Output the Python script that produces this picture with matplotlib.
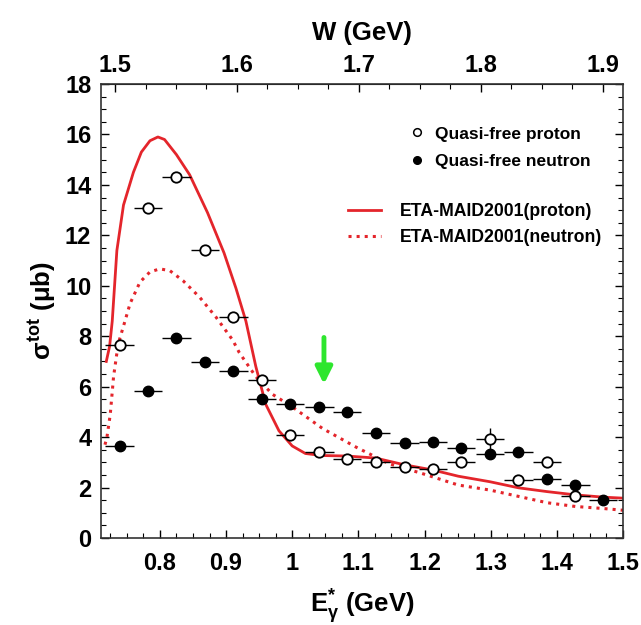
import matplotlib
matplotlib.use("Agg")
import matplotlib.pyplot as plt
from matplotlib.ticker import MultipleLocator, FixedLocator
from matplotlib.lines import Line2D
import numpy as np

plt.rcParams['font.family'] = ['Liberation Sans', 'DejaVu Sans']
plt.rcParams['font.weight'] = 'bold'
plt.rcParams['mathtext.fontset'] = 'custom'
plt.rcParams['mathtext.rm'] = 'Liberation Sans:bold'
plt.rcParams['mathtext.it'] = 'Liberation Sans:bold'
plt.rcParams['mathtext.bf'] = 'Liberation Sans:bold'

# ---- data ----
e_bins = [0.739, 0.782, 0.825, 0.868, 0.911, 0.954, 0.997, 1.041, 1.083, 1.127,
          1.170, 1.213, 1.255, 1.299, 1.342, 1.385, 1.428, 1.470]
proton_sigma = [7.67, 13.1, 14.33, 11.43, 8.78, 6.28, 4.10, 3.41, 3.12, 3.02,
                2.80, 2.73, 3.02, 3.92, 2.29, 3.02, 1.67]
proton_err = [0.2, 0.2, 0.2, 0.2, 0.2, 0.15, 0.12, 0.1, 0.1, 0.1,
              0.1, 0.1, 0.15, 0.45, 0.15, 0.2, 0.12]
neutron_sigma = [3.64, 5.83, 7.93, 6.97, 6.61, 5.53, 5.30, 5.19, 5.00, 4.17,
                 3.75, 3.81, 3.55, 3.32, 3.41, 2.32, 2.10, 1.50]
neutron_err = [0.15, 0.15, 0.15, 0.15, 0.12, 0.12, 0.1, 0.1, 0.1, 0.1,
               0.1, 0.1, 0.12, 0.12, 0.12, 0.12, 0.12, 0.12]
bin_halfwidth = 0.0215

maid_p_e = [0.719, 0.724, 0.728, 0.735, 0.745, 0.760, 0.772, 0.785, 0.797, 0.807,
            0.825, 0.845, 0.872, 0.897, 0.915, 0.930, 0.945, 0.960, 0.980, 1.000,
            1.020, 1.045, 1.083, 1.126, 1.170, 1.212, 1.251, 1.299, 1.342, 1.385,
            1.428, 1.470, 1.500]
maid_p_sigma = [7.0, 7.6, 8.6, 11.4, 13.2, 14.5, 15.3, 15.75, 15.9, 15.8,
                15.2, 14.4, 12.9, 11.3, 9.9, 8.6, 6.8, 5.3, 4.25, 3.65,
                3.35, 3.27, 3.25, 3.17, 2.9, 2.7, 2.45, 2.23, 1.99, 1.84,
                1.71, 1.62, 1.58]
maid_n_e = [0.717, 0.720, 0.725, 0.730, 0.737, 0.745, 0.755, 0.770, 0.785, 0.800,
            0.815, 0.835, 0.860, 0.885, 0.910, 0.920, 0.945, 0.970, 1.000, 1.046,
            1.096, 1.146, 1.196, 1.251, 1.299, 1.342, 1.385, 1.428, 1.470, 1.500]
maid_n_sigma = [3.7, 4.0, 4.9, 6.4, 7.7, 8.4, 9.3, 10.15, 10.55, 10.67,
                10.6, 10.2, 9.55, 8.75, 7.85, 7.35, 6.4, 5.7, 5.2, 4.34,
                3.61, 2.95, 2.56, 2.1, 1.9, 1.65, 1.4, 1.25, 1.17, 1.1]

arrow_e = 1.048
arrow_top, arrow_tip = 7.95, 6.1

x_ticks = [0.8, 0.9, 1.0, 1.1, 1.2, 1.3, 1.4, 1.5]
x_ticklabels = ['0.8', '0.9', '1', '1.1', '1.2', '1.3', '1.4', '1.5']
w_ticks = [1.5, 1.6, 1.7, 1.8, 1.9]
w_ticklabels = ['1.5', '1.6', '1.7', '1.8', '1.9']

RED = '#e4252b'

fig = plt.figure(figsize=(6.41, 6.25), dpi=100)
ax = fig.add_axes([101/641, (625-538)/625, (623-101)/641, (538-84)/625])

ax.plot(maid_p_e, maid_p_sigma, '-', color=RED, lw=2.0, zorder=2)
ax.plot(maid_n_e, maid_n_sigma, ':', color=RED, lw=2.2, zorder=2)

np_ = len(proton_sigma)
ax.errorbar(e_bins[:np_], proton_sigma, xerr=bin_halfwidth, yerr=proton_err,
            fmt='o', ms=7.5, mfc='white', mec='black', mew=1.3, ecolor='black',
            elinewidth=1.0, capsize=0, zorder=4)
ax.errorbar(e_bins, neutron_sigma, xerr=bin_halfwidth, yerr=neutron_err,
            fmt='o', ms=7.5, mfc='black', mec='black', ecolor='black',
            elinewidth=1.0, capsize=0, zorder=3)

ax.annotate('', xy=(arrow_e, arrow_tip), xytext=(arrow_e, arrow_top),
            arrowprops=dict(arrowstyle='-|>,head_width=0.5,head_length=1.0',
                            color='#2ee62e', lw=3.5, shrinkA=0, shrinkB=0))

ax.set_xlim(0.711, 1.5)
ax.set_ylim(0, 18)
ax.xaxis.set_major_locator(FixedLocator(x_ticks))
ax.set_xticklabels(x_ticklabels)
ax.xaxis.set_minor_locator(MultipleLocator(0.025))
ax.yaxis.set_major_locator(MultipleLocator(2))
ax.yaxis.set_minor_locator(MultipleLocator(0.5))
ax.tick_params(axis='both', which='both', direction='in', labelsize=17)
ax.tick_params(axis='x', which='major', length=6, width=1, pad=10, top=False)
ax.tick_params(axis='x', which='minor', length=3.5, width=0.8, top=False)
ax.tick_params(axis='y', which='major', length=6, width=1, pad=7, right=True)
ax.tick_params(axis='y', which='minor', length=3.5, width=0.8, right=True)
for sp in ax.spines.values():
    sp.set_linewidth(1.2)
    sp.set_color('#333333')

def e2w(e):
    return 1.5 + (np.asarray(e) - 0.7323) / 1.842

def w2e(w):
    return 0.7323 + (np.asarray(w) - 1.5) * 1.842

secax = ax.secondary_xaxis('top', functions=(e2w, w2e))
secax.xaxis.set_major_locator(FixedLocator(w_ticks))
secax.set_xticklabels(w_ticklabels)
secax.xaxis.set_minor_locator(MultipleLocator(0.025))
secax.tick_params(which='both', direction='in', labelsize=17)
secax.tick_params(which='major', length=6, width=1, pad=5)
secax.tick_params(which='minor', length=3.5, width=0.8)
secax.set_xlabel('W (GeV)', fontsize=18.5, fontweight='bold', labelpad=10)

ax.set_xlabel(r'$\mathrm{E}^{*}_{\gamma}$ (GeV)', fontsize=18.5, fontweight='bold', labelpad=9)
ax.set_ylabel(r'$\sigma^{\mathrm{tot}}$ ($\mu$b)', fontsize=18.5, fontweight='bold', labelpad=5)

h_p = Line2D([], [], ls='none', marker='o', ms=5.5, mfc='white', mec='black', mew=1.1)
h_n = Line2D([], [], ls='none', marker='o', ms=5.5, mfc='black', mec='black')
h_mp = Line2D([], [], ls='-', color=RED, lw=2.0)
h_mn = Line2D([], [], ls=':', color=RED, lw=2.2)

leg1 = ax.legend([h_p, h_n], ['Quasi-free proton', 'Quasi-free neutron'],
                 loc='upper left', bbox_to_anchor=(0.576, 0.922), frameon=False,
                 fontsize=12.5, handlelength=1.0, handletextpad=0.5,
                 labelspacing=0.72, borderaxespad=0)
ax.add_artist(leg1)
ax.legend([h_mp, h_mn], ['ETA-MAID2001(proton)', 'ETA-MAID2001(neutron)'],
          loc='upper left', bbox_to_anchor=(0.46, 0.753), frameon=False,
          fontsize=12.7, handlelength=1.85, handletextpad=1.1, labelspacing=0.5,
          borderaxespad=0)

fig.savefig('out.png', dpi=100)
